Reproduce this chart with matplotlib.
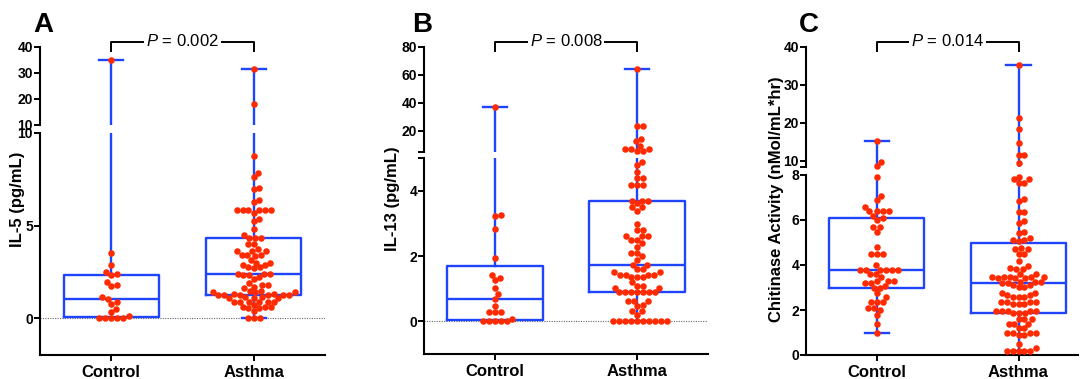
import numpy as np
import matplotlib
matplotlib.use('Agg')
import matplotlib.pyplot as plt
import matplotlib.transforms as mtrans

plt.rcParams['font.family'] = ['Liberation Sans', 'DejaVu Sans']
plt.rcParams['mathtext.fontset'] = 'custom'
plt.rcParams['mathtext.rm'] = 'Liberation Sans'
plt.rcParams['mathtext.it'] = 'Liberation Sans:italic'

# ---------------- data ----------------
categories = ['Control', 'Asthma']

il5_control = [35, 3.5, 2.88, 2.48, 2.37, 2.3, 1.95, 1.75, 1.78, 1.14, 1.02, 0.89,
               0.76, 0.49, 0.34, 0.1, 0, 0, 0, 0, 0]
il5_asthma = [31.5, 18.2, 8.77, 7.86, 7.64, 7.05, 6.96, 6.36, 6.25,
              5.83, 5.83, 5.83, 5.83, 5.83, 5.83, 5.69, 5.36, 5.24, 4.82, 4.51,
              4.33, 4.33, 4.33, 4.02, 4.02,
              3.73, 3.6, 3.6, 3.6, 3.42, 3.42, 3.42, 3.33, 3.15, 3.0, 3.0,
              2.88, 2.88, 2.75, 2.75, 2.7,
              2.4, 2.4, 2.4, 2.3, 2.3, 2.21, 2.1, 1.89, 1.79, 1.79, 1.7, 1.61,
              1.48, 1.48, 1.38, 1.38, 1.38, 1.3, 1.3,
              1.25, 1.25, 1.25, 1.25, 1.25, 1.25, 1.15, 1.15, 1.07, 1.07, 1.07,
              0.89, 0.89, 0.89, 0.89, 0.89, 0.89, 0.72, 0.61, 0.61, 0.61,
              0.53, 0.53, 0.4, 0, 0, 0]

il13_control = [37, 3.27, 3.23, 2.83, 1.94, 1.43, 1.34, 1.27, 1.02, 0.84, 0.69,
                0.48, 0.3, 0.3, 0.3, 0.08, 0, 0, 0, 0, 0]
il13_asthma = [64, 23.4, 23.4, 14.6, 12.9, 9.5, 7.4, 6.9, 6.9, 5.7, 5.7,
               4.89, 4.8, 4.58, 4.38, 4.38, 4.17, 4.17, 4.17, 3.69, 3.69, 3.69,
               3.61, 3.49, 3.49, 3.39, 2.98, 2.8, 2.8, 2.6, 2.6, 2.6, 2.49, 2.49,
               2.39, 2.29, 2.09, 2.09, 1.99, 1.88, 1.72, 1.72, 1.6, 1.6, 1.5, 1.5,
               1.43, 1.43, 1.43, 1.43, 1.37, 1.37, 1.37, 1.19, 1.09, 1.09, 1.02, 1.02,
               0.9, 0.9, 0.9, 0.9, 0.9, 0.9, 0.9, 0.61, 0.61, 0.61, 0.51, 0.46,
               0.31, 0.31, 0.2, 0, 0, 0, 0, 0, 0, 0, 0, 0, 0]

chit_control = [15.3, 9.8, 8.7, 7.9, 7.08, 6.89, 6.59, 6.4, 6.4, 6.4, 6.4, 6.18,
                6.07, 6.0, 5.69, 5.69, 5.48, 4.79, 4.49, 4.49, 4.49, 3.99,
                3.78, 3.78, 3.78, 3.78, 3.78, 3.78, 3.59, 3.59, 3.48, 3.3, 3.3, 3.3,
                3.22, 3.22, 3.07, 3.0, 3.0, 2.77, 2.59, 2.37, 2.37, 2.37, 2.07, 2.07,
                2.0, 1.78, 1.38, 0.99]
chit_asthma = [35.2, 21.2, 18.3, 14.8, 11.6, 11.6, 9.4,
               7.9, 7.8, 7.8, 7.63, 7.63, 6.92, 6.86, 6.37, 6.37, 5.96, 5.88, 5.48,
               5.41, 5.19, 5.11, 5.11, 5.05,
               4.77, 4.7, 4.7, 4.49, 4.49, 4.18, 3.96, 3.86, 3.81, 3.81, 3.6, 3.6,
               3.48, 3.48, 3.48, 3.48, 3.48, 3.41, 3.41, 3.41, 3.26, 3.26, 3.26,
               3.2, 3.2, 3.11, 3.11, 3.01, 3.01, 2.77, 2.77, 2.67, 2.67,
               2.59, 2.59, 2.59, 2.37, 2.37, 2.37, 2.37, 2.27, 2.27, 2.27,
               1.97, 1.97, 1.97, 1.97, 1.97, 1.85, 1.85, 1.85, 1.59, 1.59, 1.59,
               1.38, 1.38, 1.38, 1.19, 1.19, 0.99, 0.99, 0.99, 0.99, 0.89, 0.89,
               0.49, 0.2, 0.2, 0.2, 0.2, 0.2, 0.3]

p_values = ['0.002', '0.008', '0.014']
panel_letters = ['A', 'B', 'C']
ylabels = ['IL-5 (pg/mL)', 'IL-13 (pg/mL)', 'Chitinase Activity (nMol/mL*hr)']

# ---------------- style / layout ----------------
W, H = 1080, 379
BLUE = '#1f44ff'
RED = '#ff2a00'
fig = plt.figure(figsize=(W / 100, H / 100), dpi=100)


def rect(x0, x1, ytop, ybot):
    return [x0 / W, 1 - ybot / H, (x1 - x0) / W, (ybot - ytop) / H]


panels = [
    dict(data=[il5_control, il5_asthma], x0=40, x1=325, up=(47, 125), lo=(133, 355),
         uplim=(10, 40), lolim=(-2, 10), upt=[10, 20, 30, 40], upl=['10', '20', '30', '40'],
         lot=[0, 5, 10], lol=['0', '5', '10'], zero=True, xlim=(-0.5, 1.5),
         lx=33, ylx=18),
    dict(data=[il13_control, il13_asthma], x0=424, x1=708, up=(47, 152), lo=(158, 354),
         uplim=(5, 80), lolim=(-1, 5), upt=[5, 20, 40, 60, 80], upl=['', '20', '40', '60', '80'],
         lot=[0, 2, 4, 5], lol=['0', '2', '4', ''], zero=True, xlim=(-0.5, 1.5),
         lx=412, ylx=393),
    dict(data=[chit_control, chit_asthma], x0=806, x1=1078, up=(47, 166.7), lo=(175, 355),
         uplim=(8.5, 40), lolim=(0, 8), upt=[8.5, 10, 20, 30, 40], upl=['', '10', '20', '30', '40'],
         lot=[0, 2, 4, 6, 8], lol=['0', '2', '4', '6', '8'], zero=False, xlim=(-0.5, 1.42),
         lx=799, ylx=776),
]


def swarm_offsets(ypx, d):
    order = np.argsort(ypx, kind='stable')
    xs = np.zeros(len(ypx))
    px, py = [], []
    for i in order:
        y = ypx[i]
        ax_ = np.array(px)
        ay_ = np.array(py)
        if len(ax_):
            m = np.abs(ay_ - y) < d
            nx, ny = ax_[m], ay_[m]
        else:
            nx = ny = np.array([])
        cands = [0.0]
        for a, b in zip(nx, ny):
            dx = np.sqrt(max(d * d - (b - y) ** 2, 0))
            cands += [a + dx, a - dx]
        cands = sorted(cands, key=lambda c: (abs(c), -c))
        chosen = 0.0
        for c in cands:
            if np.all((nx - c) ** 2 + (ny - y) ** 2 >= d * d - 1e-6):
                chosen = c
                break
        xs[i] = chosen
        px.append(chosen)
        py.append(y)
    return xs


for k, P in enumerate(panels):
    ax_up = fig.add_axes(rect(P['x0'], P['x1'], *P['up']))
    ax_lo = fig.add_axes(rect(P['x0'], P['x1'], *P['lo']))
    for ax in (ax_up, ax_lo):
        ax.set_xlim(*P['xlim'])
        ax.patch.set_alpha(0)
        ax.spines['top'].set_visible(False)
        ax.spines['right'].set_visible(False)
        ax.spines['left'].set_linewidth(1.5)
        ax.spines['bottom'].set_linewidth(1.5)
        ax.tick_params(axis='both', width=1.4, length=4, color='black')
    ax_up.set_ylim(*P['uplim'])
    ax_lo.set_ylim(*P['lolim'])
    ax_up.spines['bottom'].set_visible(False)
    ax_up.tick_params(axis='x', bottom=False, labelbottom=False)
    ax_up.set_yticks(P['upt'], P['upl'], fontsize=10, fontweight='bold')
    ax_lo.set_yticks(P['lot'], P['lol'], fontsize=10, fontweight='bold')
    ax_lo.set_xticks([0, 1], categories, fontsize=12, fontweight='bold')
    ax_lo.tick_params(axis='x', length=4, pad=3)
    ax_up.tick_params(axis='y', pad=1)
    ax_lo.tick_params(axis='y', pad=1)

    if P['zero']:
        ax_lo.axhline(0, color='#666666', ls=(0, (1, 1.2)), lw=0.8, zorder=0.5)

    # box stats (Prism-style quartiles)
    stats = []
    for vals in P['data']:
        v = np.asarray(vals, float)
        q1, med, q3 = np.percentile(v, [25, 50, 75], method='weibull')
        stats.append(dict(med=med, q1=q1, q3=q3, whislo=v.min(), whishi=v.max(), fliers=[]))
    for ax in (ax_up, ax_lo):
        ax.bxp(stats, positions=[0, 1], widths=0.67, capwidths=0.17, showfliers=False,
               boxprops=dict(color=BLUE, lw=1.7), whiskerprops=dict(color=BLUE, lw=1.7),
               capprops=dict(color=BLUE, lw=1.7), medianprops=dict(color=BLUE, lw=1.7),
               manage_ticks=False, zorder=2)

    # beeswarm points
    ppu = ax_lo.bbox.width / (P['xlim'][1] - P['xlim'][0])
    lo_top = P['lolim'][1]
    for pos, vals in enumerate(P['data']):
        v = np.asarray(vals, float)
        ypx = np.array([(ax_up if val > lo_top else ax_lo).transData.transform((0, val))[1]
                        for val in v])
        offs = swarm_offsets(ypx, 5.9)
        xs = pos + offs / ppu
        m_up = v > lo_top
        ax_up.plot(xs[m_up], v[m_up], 'o', ms=4.7, color=RED, mec='none', zorder=3, clip_on=False)
        ax_lo.plot(xs[~m_up], v[~m_up], 'o', ms=4.7, color=RED, mec='none', zorder=3, clip_on=False)

    # significance bracket
    trans = mtrans.blended_transform_factory(ax_lo.transData, fig.transFigure)
    yt = 1 - 42 / H
    yb = 1 - 51 / H
    ax_up.plot([0, 0, 1, 1], [yb, yt, yt, yb], color='black', lw=1.4,
               transform=trans, clip_on=False)
    ax_up.text(0.5, 1 - 46.5 / H, r'$\mathit{P}$ = ' + p_values[k], transform=trans,
               ha='center', va='baseline', fontsize=12,
               bbox=dict(fc='white', ec='none', pad=1.5), zorder=5)

    # letters and y-labels
    fig.text(P['lx'] / W, 1 - 32 / H, panel_letters[k], fontsize=20, fontweight='bold',
             ha='left', va='baseline')
    fig.text(P['ylx'] / W, 1 - 199 / H, ylabels[k], rotation=90, fontsize=12,
             fontweight='bold', ha='center', va='center')

fig.savefig('out.png', dpi=100)
